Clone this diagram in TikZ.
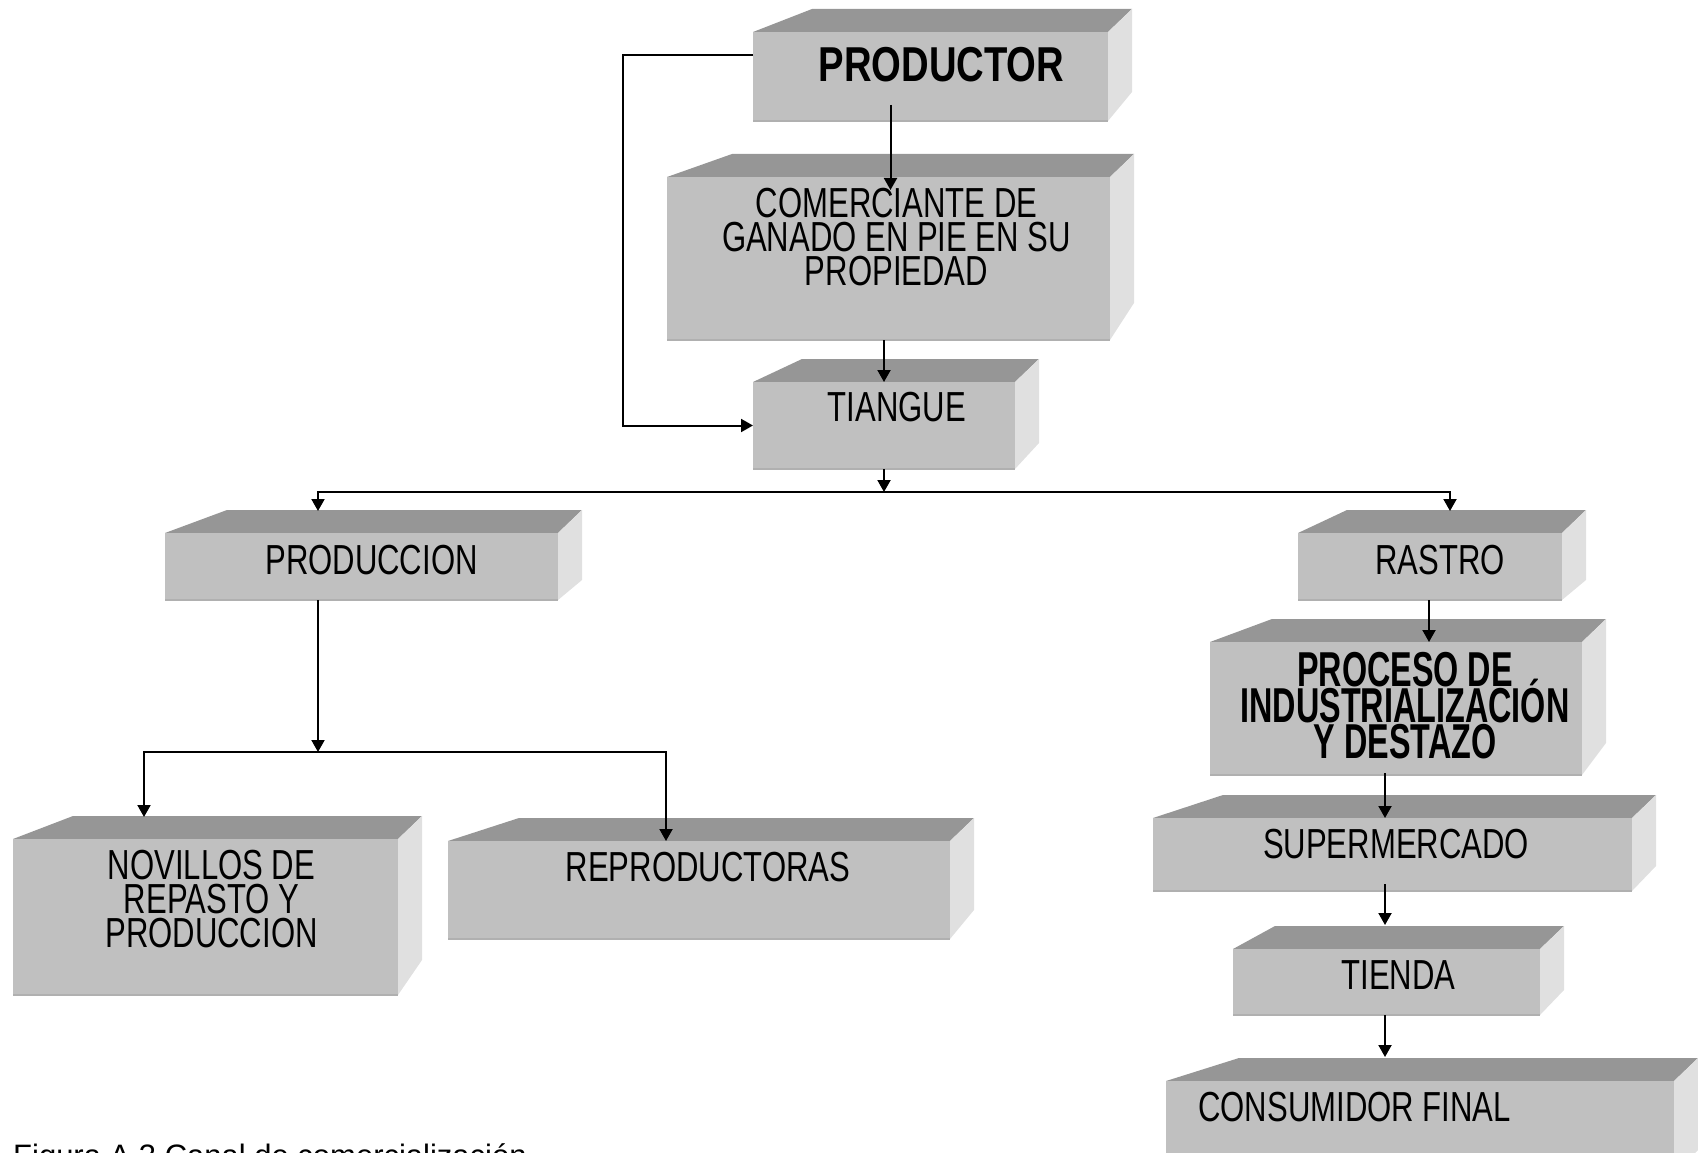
\documentclass[tikz,border=0pt]{standalone}
\usepackage{fontspec}
\setmainfont{Liberation Sans}
\newfontfamily\cajafont[FakeStretch=0.74]{Liberation Sans}
\newfontfamily\titulofont[FakeStretch=0.78]{Liberation Sans}
\newfontfamily\procesofont[FakeStretch=0.66]{Liberation Sans}
\newcommand{\apretado}{\lineskiplimit-60pt\relax}
\usepackage{tikz}
\usetikzlibrary{arrows.meta, positioning, calc}
\definecolor{frentegris}{HTML}{C0C0C0}
\definecolor{tapagris}{HTML}{969696}
\definecolor{ladogris}{HTML}{E0E0E0}
\definecolor{bordegris}{HTML}{B0B0B0}
\tikzset{
    frente/.style = {fill=frentegris, inner sep=0pt, outer sep=0pt},
    tapa/.style = {fill=tapagris},
    lado/.style = {fill=ladogris},
    texto/.style = {anchor=north, align=center, inner sep=0pt,
        font=\cajafont\fontsize{42}{34}\selectfont\apretado},
    titulo/.style = {texto, font=\titulofont\bfseries\fontsize{49}{40}\selectfont},
    negrita/.style = {texto, font=\procesofont\bfseries\fontsize{49}{36}\selectfont\apretado},
    piefigura/.style = {anchor=base west, inner sep=0pt, font=\fontsize{31}{36}\selectfont},
    linea/.style = {line width=2pt},
    flecha/.style = {linea, ->},
}
% caja: nombre, x1, y1, x2, y2, corrimiento de la tapa, fondo del lado
\newcommand{\caja}[7]{
    \fill[tapa] (#2,#3) -- (#2+#6,#3-23) -- (#4+24,#3-23) -- (#4,#3) -- cycle;
    \fill[lado] (#4,#3) -- (#4+24,#3-23) -- (#4+24,#7) -- (#4,#5) -- cycle;
    \node[frente, minimum width=#4pt-#2pt, minimum height=#5pt-#3pt] (#1)
        at ({(#2+#4)/2},{(#3+#5)/2}) {};
    \draw[bordegris, line width=2pt] (#1.south west) -- (#1.south east);
}

\begin{document}
\begin{tikzpicture}[x=1pt, y=-1pt, >={Triangle[length=12pt, width=13pt]}]
        \useasboundingbox (0,0) rectangle (1698,1153);
        \caja{productor}{753}{32}{1108}{121}{59}{92}
        \caja{comerciante}{667}{177}{1110}{340}{65}{303}
        \caja{tiangue}{753}{382}{1015}{469}{49}{443}
        \caja{produccion}{165}{533}{558}{600}{62}{580}
        \caja{rastro}{1298}{533}{1562}{600}{49}{580}
        \caja{proceso}{1210}{642}{1582}{775}{62}{743}
        \caja{novillos}{13}{839}{398}{995}{60}{960}
        \caja{reproductoras}{448}{841}{950}{939}{71}{910}
        \caja{supermercado}{1153}{818}{1632}{891}{70}{866}
        \caja{tienda}{1233}{949}{1540}{1015}{42}{990}
        \caja{consumidor}{1166}{1081}{1674}{1175}{73}{1150}

        \node [titulo] (productor-t) at ([xshift=11pt,yshift=-15pt]productor.north) {PRODUCTOR};
        \node [texto] (comerciante-t) at ([xshift=8pt,yshift=-11pt]comerciante.north)
            {COMERCIANTE DE\\GANADO EN PIE EN SU\\PROPIEDAD};
        \node [texto] (tiangue-t) at ([xshift=13pt,yshift=-10pt]tiangue.north) {TIANGUE};
        \node [texto] (produccion-t) at ([xshift=10pt,yshift=-12pt]produccion.north) {PRODUCCION};
        \node [texto] (rastro-t) at ([xshift=10pt,yshift=-12pt]rastro.north) {RASTRO};
        \node [negrita] (proceso-t) at ([xshift=9pt,yshift=-10pt]proceso.north)
            {PROCESO DE\\INDUSTRIALIZACIÓN\\Y DESTAZO};
        \node [texto] (novillos-t) at ([xshift=6pt,yshift=-11pt]novillos.north)
            {NOVILLOS DE\\REPASTO Y\\PRODUCCION};
        \node [texto] (reproductoras-t) at ([xshift=9pt,yshift=-11pt]reproductoras.north) {REPRODUCTORAS};
        \node [texto] (supermercado-t) at ([xshift=3.5pt,yshift=-11pt]supermercado.north) {SUPERMERCADO};
        \node [texto] (tienda-t) at ([xshift=12pt,yshift=-11pt]tienda.north) {TIENDA};
        \node [texto] (consumidor-t) at ([xshift=-65.5pt,yshift=-11pt]consumidor.north) {CONSUMIDOR FINAL};

        \coordinate (reparto) at ([yshift=-23pt]tiangue.south);
        \coordinate (reparto2) at ([xshift=-43.5pt,yshift=-152pt]produccion.south);

        \draw [flecha] ([xshift=-40pt,yshift=16pt]productor.south) -- ([xshift=2pt,yshift=-13pt]comerciante.north);
        \draw [flecha] ([xshift=-4.5pt]comerciante.south) -- (tiangue.north);
        \draw [flecha] ([yshift=21.5pt]productor.west) -- ([xshift=-130pt,yshift=21.5pt]productor.west) |- (tiangue.west);
        \draw [flecha] (tiangue.south) -- (reparto);
        \draw [flecha] (reparto) -| ([xshift=-43.5pt,yshift=22pt]produccion.north);
        \draw [flecha] (reparto) -| ([xshift=20pt,yshift=22pt]rastro.north);
        \draw [flecha] ([xshift=-43.5pt]produccion.south) -- (reparto2);
        \draw [flecha] (reparto2) -| ([xshift=-61.5pt,yshift=22pt]novillos.north);
        \draw [flecha] (reparto2) -| ([xshift=-33pt]reproductoras.north);
        \draw [flecha] ([xshift=-1pt]rastro.south) -- ([xshift=33pt]proceso.north);
        \draw [flecha] ([xshift=-11pt,yshift=2pt]proceso.south) -- ([xshift=-7.5pt]supermercado.north);
        \draw [flecha] ([xshift=-7.5pt,yshift=7pt]supermercado.south) -- ([xshift=-1.5pt,yshift=24pt]tienda.north);
        \draw [flecha] ([xshift=-1.5pt]tienda.south) -- ([xshift=-35pt,yshift=24pt]consumidor.north);

        \node [piefigura] (pie) at (13,1166) {Figura A.3 Canal de comercialización};
\end{tikzpicture}
\end{document}
